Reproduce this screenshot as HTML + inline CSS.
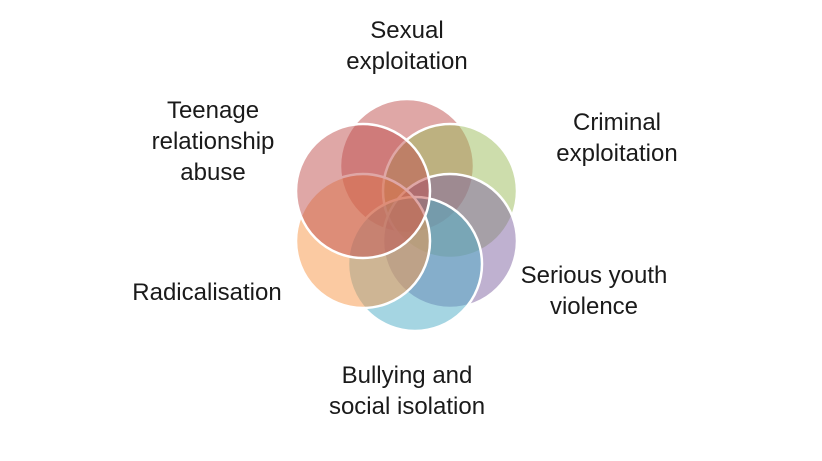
<!DOCTYPE html>
<html><head><style>
body{margin:0;width:822px;height:461px;background:#fff;overflow:hidden}
svg{display:block}
text{font-family:"Liberation Sans",sans-serif;font-size:24px;fill:#1a1a1a;text-anchor:middle}
</style></head><body>
<svg width="822" height="461" viewBox="0 0 822 461">
<g stroke="#fff" stroke-width="2.5" fill-opacity="0.5">
<circle cx="407" cy="166" r="67" fill="#c0504d"/>
<circle cx="450" cy="191" r="67" fill="#9bbb59"/>
<circle cx="450" cy="241" r="67" fill="#8064a2"/>
<circle cx="415" cy="264" r="67" fill="#4bacc6"/>
<circle cx="363" cy="241" r="67" fill="#f79646"/>
<circle cx="363" cy="191" r="67" fill="#c0504d"/>
</g>
<text x="407" y="38">Sexual</text>
<text x="407" y="69">exploitation</text>
<text x="617" y="130">Criminal</text>
<text x="617" y="161">exploitation</text>
<text x="594" y="283">Serious youth</text>
<text x="594" y="314">violence</text>
<text x="407" y="383">Bullying and</text>
<text x="407" y="414">social isolation</text>
<text x="207" y="300">Radicalisation</text>
<text x="213" y="118">Teenage</text>
<text x="213" y="149">relationship</text>
<text x="213" y="180">abuse</text>
</svg>
</body></html>
